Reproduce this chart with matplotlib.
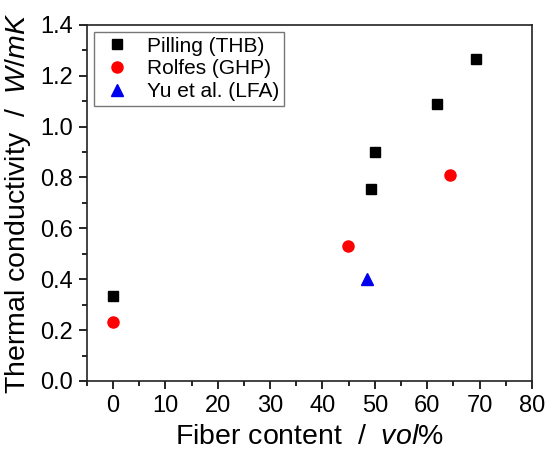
import matplotlib
matplotlib.use("Agg")
import matplotlib.pyplot as plt
from matplotlib.ticker import MultipleLocator

plt.rcParams['font.family'] = ['Liberation Sans', 'DejaVu Sans']
plt.rcParams['mathtext.fontset'] = 'custom'
plt.rcParams['mathtext.rm'] = 'Liberation Sans'
plt.rcParams['mathtext.it'] = 'Liberation Sans:italic'

# Data
pilling_x = [0, 49.3, 50.1, 61.9, 69.3]
pilling_y = [0.332, 0.755, 0.899, 1.089, 1.267]
rolfes_x = [0, 44.8, 64.4]
rolfes_y = [0.233, 0.529, 0.811]
yu_x = [48.6]
yu_y = [0.40]

fig = plt.figure(figsize=(5.5, 4.68), dpi=100)
ax = fig.add_axes([0.158, 0.186, 0.809, 0.761])

ax.plot(pilling_x, pilling_y, 's', color='black', ms=7, label='Pilling (THB)')
ax.plot(rolfes_x, rolfes_y, 'o', color='#ff0000', ms=8, label='Rolfes (GHP)')
ax.plot(yu_x, yu_y, '^', color='#0000ee', ms=9, label='Yu et al. (LFA)')

ax.set_xlim(-5, 80)
ax.set_ylim(0, 1.4)
ax.xaxis.set_major_locator(MultipleLocator(10))
ax.xaxis.set_minor_locator(MultipleLocator(5))
ax.yaxis.set_major_locator(MultipleLocator(0.2))
ax.yaxis.set_minor_locator(MultipleLocator(0.1))
ax.yaxis.set_major_formatter(matplotlib.ticker.FormatStrFormatter('%.1f'))

ax.tick_params(which='major', direction='out', length=6, width=1.2, labelsize=17, pad=4)
ax.tick_params(which='minor', direction='out', length=3.5, width=1.2)
for s in ax.spines.values():
    s.set_linewidth(1.2)
    s.set_color('#222222')

ax.set_xlabel('Fiber content  /  $\\mathit{vol\\%}$', fontsize=20.5, labelpad=5)
ax.set_ylabel('Thermal conductivity  /  $\\mathit{W/mK}$', fontsize=20.5, labelpad=5)

leg = ax.legend(loc='upper left', fontsize=15, frameon=True, fancybox=False,
                edgecolor='#555555', handletextpad=0.6, borderpad=0.22,
                labelspacing=0.18, handlelength=1.7,
                bbox_to_anchor=(0.017, 0.98), borderaxespad=0.0)
leg.get_frame().set_linewidth(1.0)

fig.savefig('out.png', dpi=100)
